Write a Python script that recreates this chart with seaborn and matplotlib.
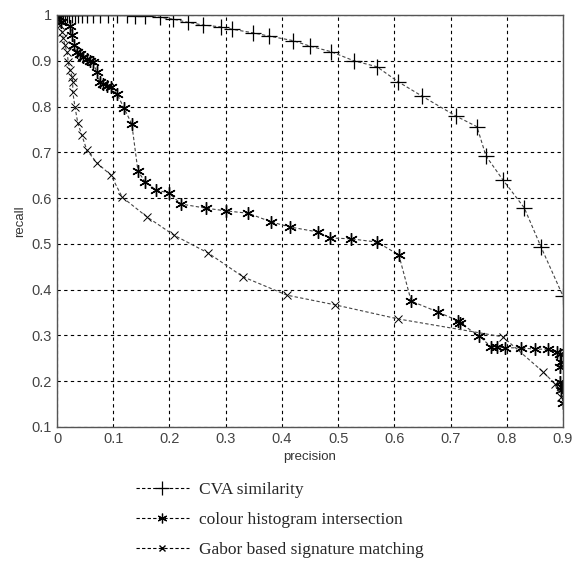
import matplotlib
matplotlib.use("Agg")
import matplotlib.pyplot as plt
from matplotlib.lines import Line2D
import seaborn as sns
import numpy as np

# ---- data ----
cva_precision = [0.002, 0.005, 0.008, 0.011, 0.014, 0.018, 0.022, 0.027, 0.032, 0.037, 0.044,
                 0.053, 0.064, 0.076, 0.091, 0.107, 0.125, 0.139, 0.157, 0.183, 0.206, 0.233,
                 0.260, 0.292, 0.311, 0.349, 0.377, 0.420, 0.450, 0.487, 0.528, 0.569, 0.607,
                 0.649, 0.710, 0.747, 0.763, 0.793, 0.831, 0.861, 0.900]
cva_recall = [1.0, 1.0, 1.0, 1.0, 1.0, 1.0, 1.0, 1.0, 1.0, 1.0, 1.0,
              1.0, 1.0, 1.0, 1.0, 1.0, 1.0, 0.998, 0.998, 0.995, 0.991, 0.984,
              0.978, 0.974, 0.969, 0.961, 0.954, 0.944, 0.932, 0.920, 0.900, 0.887, 0.854,
              0.823, 0.779, 0.756, 0.692, 0.640, 0.579, 0.493, 0.386]

colour_precision = [0.003, 0.008, 0.023, 0.027, 0.030, 0.036, 0.041, 0.046, 0.053, 0.059, 0.064,
                    0.071, 0.076, 0.082, 0.089, 0.096, 0.107, 0.119, 0.133, 0.144, 0.157,
                    0.176, 0.199, 0.221, 0.265, 0.301, 0.340, 0.381, 0.414, 0.464, 0.486,
                    0.523, 0.569, 0.608, 0.630, 0.678, 0.713, 0.717, 0.751, 0.772, 0.783,
                    0.797, 0.825, 0.850, 0.873, 0.889, 0.895, 0.896, 0.895, 0.895, 0.898,
                    0.896, 0.900]
colour_recall = [0.995, 0.985, 0.976, 0.956, 0.934, 0.919, 0.915, 0.908, 0.904, 0.900, 0.897,
                 0.875, 0.854, 0.849, 0.845, 0.843, 0.827, 0.797, 0.762, 0.659, 0.635,
                 0.618, 0.611, 0.587, 0.578, 0.572, 0.567, 0.548, 0.537, 0.526, 0.513,
                 0.511, 0.504, 0.476, 0.375, 0.351, 0.332, 0.327, 0.299, 0.275, 0.275,
                 0.273, 0.273, 0.270, 0.270, 0.264, 0.259, 0.242, 0.231, 0.198, 0.187,
                 0.181, 0.152]

gabor_precision = [0.002, 0.005, 0.009, 0.011, 0.014, 0.018, 0.020, 0.023, 0.027, 0.028, 0.028,
                   0.032, 0.037, 0.044, 0.053, 0.071, 0.096, 0.116, 0.160, 0.208, 0.269,
                   0.331, 0.409, 0.494, 0.607, 0.793, 0.865, 0.885, 0.897]
gabor_recall = [0.99, 0.978, 0.963, 0.950, 0.934, 0.919, 0.897, 0.880, 0.865, 0.854, 0.832,
                0.799, 0.764, 0.738, 0.705, 0.677, 0.650, 0.602, 0.559, 0.519, 0.480,
                0.428, 0.388, 0.367, 0.336, 0.297, 0.220, 0.195, 0.165]

series_labels = ["CVA similarity", "colour histogram intersection", "Gabor based signature matching"]
x_ticks = [0, 0.1, 0.2, 0.3, 0.4, 0.5, 0.6, 0.7, 0.8, 0.9]
x_tick_labels = ["0", "0.1", "0.2", "0.3", "0.4", "0.5", "0.6", "0.7", "0.8", "0.9"]
y_ticks = [0.1, 0.2, 0.3, 0.4, 0.5, 0.6, 0.7, 0.8, 0.9, 1.0]
y_tick_labels = ["0.1", "0.2", "0.3", "0.4", "0.5", "0.6", "0.7", "0.8", "0.9", "1"]

# ---- plot ----
sns.set_style("white")
plt.rcParams["font.family"] = ["Liberation Sans", "DejaVu Sans"]

fig = plt.figure(figsize=(5.81, 5.73), dpi=100)
ax = fig.add_axes([57 / 581, 1 - 427 / 573, (563 - 57) / 581, (427 - 15) / 573])

ASTERISK = (6, 2, 0)
line_kw = dict(color="#444444", linewidth=0.8, linestyle=(0, (3, 2)), sort=False,
               estimator=None, markeredgecolor="black", markerfacecolor="black", ax=ax)
sns.lineplot(x=cva_precision, y=cva_recall, marker="+", markersize=11, markeredgewidth=0.9, **line_kw)
sns.lineplot(x=colour_precision, y=colour_recall, marker=ASTERISK, markersize=9, markeredgewidth=1.0, **line_kw)
sns.lineplot(x=gabor_precision, y=gabor_recall, marker="x", markersize=6, markeredgewidth=0.7, **line_kw)

ax.set_xlim(0, 0.9)
ax.set_ylim(0.1, 1.0)
ax.set_xticks(x_ticks)
ax.set_xticklabels(x_tick_labels)
ax.set_yticks(y_ticks)
ax.set_yticklabels(y_tick_labels)
ax.grid(True, color="black", linestyle=(0, (3, 3)), linewidth=0.8)
ax.set_axisbelow(True)
ax.tick_params(direction="in", length=5, width=0.8, colors="#444444", labelsize=10.5,
               top=False, right=False, labelcolor="#444444")
for sp in ax.spines.values():
    sp.set_color("#555555")
    sp.set_linewidth(1.0)
    sp.set_visible(True)
ax.set_xlabel("precision", fontsize=9.5, color="#333333", labelpad=4)
ax.set_ylabel("recall", fontsize=9.5, color="#333333", labelpad=4)

handles = [
    Line2D([], [], color="black", lw=0.8, ls=(0, (3, 2)), marker="+", markersize=10, markeredgewidth=0.9),
    Line2D([], [], color="black", lw=0.8, ls=(0, (3, 2)), marker=ASTERISK, markersize=7, markeredgewidth=0.9),
    Line2D([], [], color="black", lw=0.8, ls=(0, (3, 2)), marker="x", markersize=5),
]
fig.legend(handles, series_labels, loc="upper left", bbox_to_anchor=(120 / 581, 1 - 466 / 573),
           frameon=False, prop={"family": "Liberation Serif", "size": 12.5},
           handlelength=3.05, handletextpad=0.58, labelspacing=0.8)

fig.savefig("out.png", dpi=100)
